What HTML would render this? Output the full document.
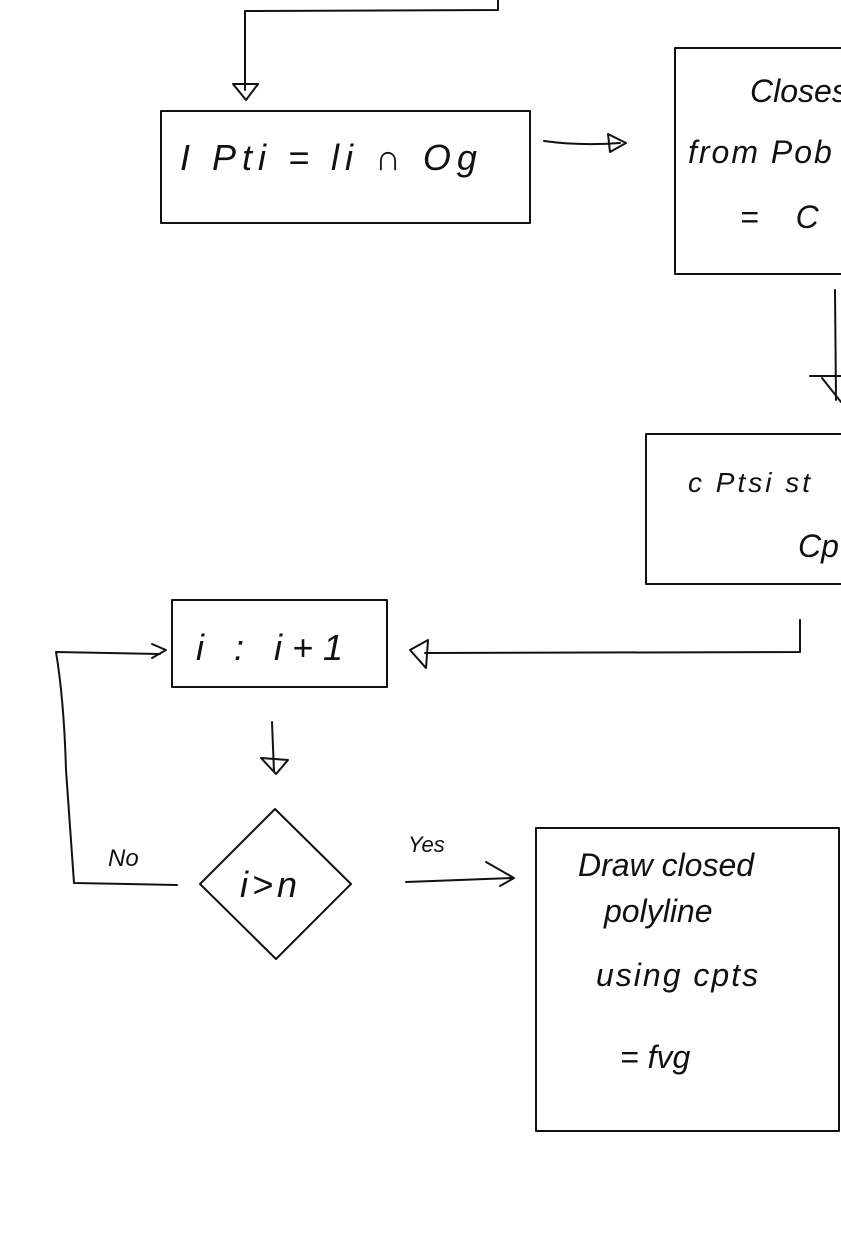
<!DOCTYPE html>
<html><head><style>
html,body{margin:0;padding:0;background:#fff;width:841px;height:1258px;overflow:hidden}
svg{display:block}
text{font-family:"Liberation Sans",sans-serif;fill:#111;font-style:italic}
</style></head><body>
<svg width="841" height="1258" viewBox="0 0 841 1258" xmlns="http://www.w3.org/2000/svg">
<g fill="none" stroke="#111" stroke-width="2" stroke-linecap="round" stroke-linejoin="round">
<path d="M498 0 L498 10 L245 11 L245 90"/>
<path d="M233 84 L258 84 L246 100 Z"/>
<rect x="161" y="111" width="369" height="112"/>
<path d="M544 141 Q580 146 620 143"/>
<path d="M608 134 L626 143 L610 152 Z"/>
<path d="M841 48 L675 48 L675 274 L841 274"/>
<path d="M835 290 L836 400"/>
<path d="M810 376 L841 376"/>
<path d="M822 378 L841 402"/>
<path d="M841 434 L646 434 L646 584 L841 584"/>
<path d="M800 620 L800 652 L425 653"/>
<path d="M410 650 L428 640 L426 668 Z"/>
<rect x="172" y="600" width="215" height="87"/>
<path d="M272 722 L274 772"/>
<path d="M261 758 L288 760 L276 774 Z"/>
<path d="M275 809 L351 884 L276 959 L200 884 Z"/>
<path d="M177 885 L74 883 Q70 830 66 770 Q64 700 56 652 L160 654"/>
<path d="M152 644 L166 650 L152 658"/>
<path d="M406 882 Q460 880 512 878"/>
<path d="M486 862 L514 878 L500 886"/>
<rect x="536" y="828" width="303" height="303"/>
</g>
<g style="font-style:normal">
<text x="180" y="170" font-size="36" letter-spacing="6">I Pti = li ∩ Og</text>
<text x="750" y="102" font-size="32">Closes</text>
<text x="688" y="163" font-size="32" letter-spacing="2">from Pob</text>
<text x="740" y="228" font-size="32" letter-spacing="14">= C</text>
<text x="688" y="492" font-size="28" letter-spacing="3">c Ptsi  st</text>
<text x="798" y="557" font-size="32">Cp</text>
<text x="196" y="660" font-size="36" letter-spacing="10">i : i+1</text>
<text x="240" y="897" font-size="36" letter-spacing="4">i&gt;n</text>
<text x="108" y="866" font-size="24">No</text>
<text x="408" y="852" font-size="22">Yes</text>
<text x="578" y="876" font-size="32">Draw closed</text>
<text x="604" y="922" font-size="32">polyline</text>
<text x="596" y="986" font-size="32" letter-spacing="2">using  cpts</text>
<text x="620" y="1068" font-size="32">= fvg</text>
</g>
</svg>
</body></html>
